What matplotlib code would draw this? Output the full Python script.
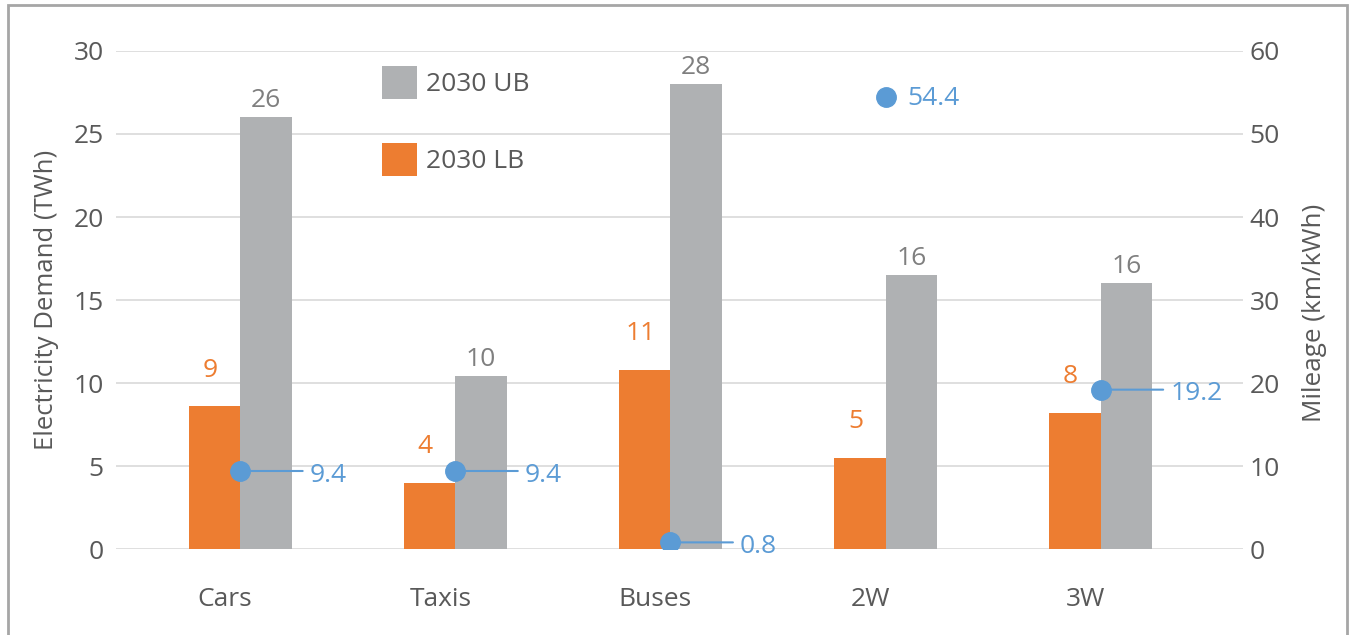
import matplotlib
matplotlib.use("Agg")
import matplotlib.pyplot as plt
import numpy as np
from matplotlib.patches import Patch, Rectangle
from matplotlib.transforms import ScaledTranslation

plt.rcParams['font.family'] = ['Open Sans', 'DejaVu Sans']

categories = ["Cars", "Taxis", "Buses", "2W", "3W"]
lb_2030 = [8.6, 4.0, 10.8, 5.5, 8.2]
ub_2030 = [26.0, 10.4, 28.0, 16.5, 16.0]
mileage = [9.4, 9.4, 0.8, 54.4, 19.2]
lb_labels = ["9", "4", "11", "5", "8"]
ub_labels = ["26", "10", "28", "16", "16"]
mileage_labels = ["9.4", "9.4", "0.8", "54.4", "19.2"]

ORANGE = "#ED7D31"
GRAY = "#AFB1B3"
BLUE = "#5B9BD5"
TEXT = "#595959"
GRID = "#D9D9D9"
FS = 19

fig = plt.figure(figsize=(13.51, 6.35), dpi=100)
ax = fig.add_axes([0.0859, 0.1354, 0.8339, 0.7843])
ax2 = ax.twinx()

x = np.arange(len(categories))
w = 0.24
ax.bar(x - w / 2, lb_2030, width=w, color=ORANGE, zorder=2, label="2030 LB")
ax.bar(x + w / 2, ub_2030, width=w, color=GRAY, zorder=2, label="2030 UB")

for xi, v, s in zip(x, lb_2030, lb_labels):
    ax.annotate(s, (xi - w / 2, v), xytext=(-3, 26), textcoords="offset points",
                ha="center", va="center", color=ORANGE, fontsize=FS)
for xi, v, s in zip(x, ub_2030, ub_labels):
    ax.annotate(s, (xi + w / 2, v), xytext=(0, 12), textcoords="offset points",
                ha="center", va="center", color="#7F7F7F", fontsize=FS)

ax.set_xlim(-0.577, 4.66)
ax.set_ylim(0, 30)
ax.set_yticks(np.arange(0, 31, 5))
ax.set_xticks(x)
ax.set_xticklabels(categories)
ax.tick_params(axis="x", length=0, pad=27, labelsize=FS, labelcolor=TEXT)
ax.tick_params(axis="y", length=0, pad=9, labelsize=FS, labelcolor=TEXT)
for lab in ax.get_xticklabels():
    lab.set_transform(lab.get_transform() + ScaledTranslation(-0.15, 0, fig.dpi_scale_trans))
ax.grid(axis="y", color=GRID, lw=1.2, zorder=0)
ax.set_axisbelow(True)
for sp in ax.spines.values():
    sp.set_visible(False)
for sp in ax2.spines.values():
    sp.set_visible(False)
ax.set_ylabel("Electricity Demand (TWh)", fontsize=18.5, color=TEXT)
ax.yaxis.set_label_coords(-0.0506, 0.5)

ax2.set_ylim(0, 60)
ax2.set_yticks(np.arange(0, 61, 10))
ax2.tick_params(axis="y", length=0, pad=5, labelsize=FS, labelcolor=TEXT)
ax2.set_ylabel("Mileage (km/kWh)", fontsize=18.8, color=TEXT)
ax2.yaxis.set_label_coords(1.053, 0.474)

ax2.plot(x, mileage, linestyle="none", marker="o", markersize=14,
         color=BLUE, zorder=4)
for i, (xi, v, s) in enumerate(zip(x, mileage, mileage_labels)):
    if categories[i] == "2W":
        ax2.annotate(s, (xi, v), xytext=(16, -1), textcoords="offset points",
                     ha="left", va="center", color=BLUE, fontsize=FS)
    else:
        ax2.annotate("", (xi, v), xytext=(45, 0), textcoords="offset points",
                     arrowprops=dict(arrowstyle="-", color=BLUE, lw=1.5,
                                     shrinkA=0, shrinkB=0), zorder=3)
        ax2.annotate(s, (xi, v), xytext=(50, -3), textcoords="offset points",
                     ha="left", va="center", color=BLUE, fontsize=FS)

handles = [Patch(facecolor=GRAY), Patch(facecolor=ORANGE)]
ax.legend(handles, ["2030 UB", "2030 LB"], loc="upper left",
          bbox_to_anchor=(0.236, 0.970), frameon=False, fontsize=FS,
          handlelength=1.33, handleheight=1.56, labelspacing=1.66,
          handletextpad=0.35, borderpad=0, borderaxespad=0, labelcolor=TEXT)

fig.add_artist(Rectangle((8 / 1351, -0.05), (1347 - 8) / 1351, 1.05 - 5 / 635,
                         transform=fig.transFigure, fill=False,
                         edgecolor="#A6A6A6", lw=2))

fig.savefig("out.png", dpi=100)
